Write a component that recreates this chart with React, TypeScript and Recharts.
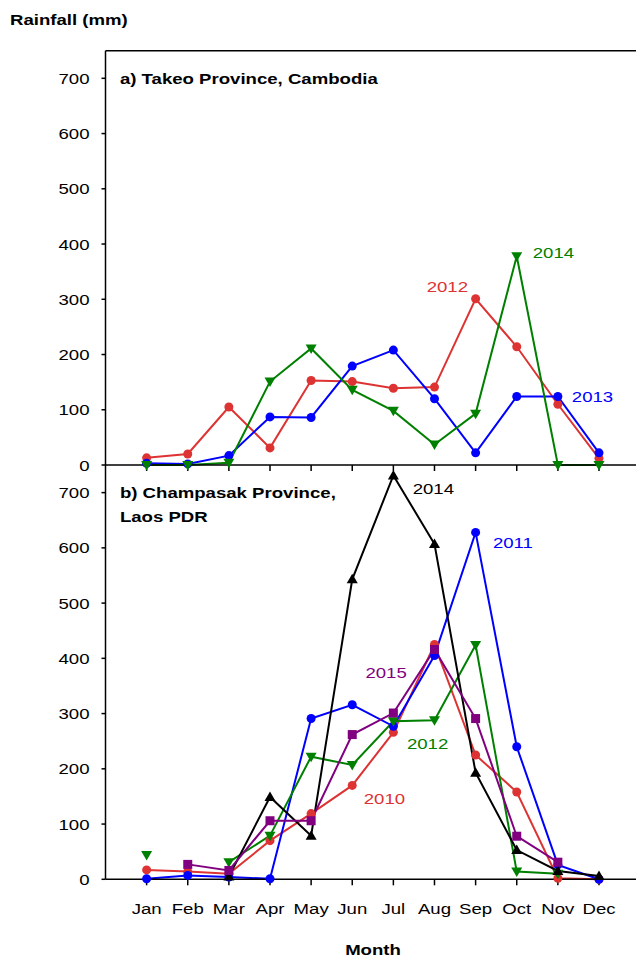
import React from 'react';
import { ComposedChart, Line, XAxis, YAxis, ReferenceLine, Scatter } from 'recharts';

const FONT = '"Liberation Sans", Arial, Helvetica, sans-serif';
const FS = 15.5;
const SX = 1.2;

const monthLabels = ['Jan', 'Feb', 'Mar', 'Apr', 'May', 'Jun', 'Jul', 'Aug', 'Sep', 'Oct', 'Nov', 'Dec'];
const monthNums = [1, 2, 3, 4, 5, 6, 7, 8, 9, 10, 11, 12];
const yTicks = [0, 100, 200, 300, 400, 500, 600, 700];

// a) Takeo Province, Cambodia
const takeo2012 = [13, 20, 105, 31, 153, 151, 139, 141, 301, 214, 110, 12];
const takeo2013 = [3, 2, 17, 87, 86, 179, 208, 120, 22, 124, 124, 22];
const takeo2014 = [0, 0, 4, 151, 211, 136, 98, 37, 93, 378, 0, 0];

// b) Champasak Province, Laos PDR
const champ2010 = [17, 14, 10, 70, 119, 170, 266, 425, 225, 158, 2, 0];
const champ2011 = [1, 7, 4, 1, 291, 316, 277, 405, 628, 240, 26, 0];
const champ2012 = [44, null, 31, 79, 222, 207, 286, 288, 424, 14, 10, null];
const champ2014 = [null, null, 5, 149, 79, 543, 731, 607, 193, 53, 15, 6];
const champ2015 = [null, 27, 16, 106, 106, 262, 301, 416, 291, 78, 31, null];

// year annotations (data coordinates of label start)
const takeoNotes = [
  { text: '2014', m: 10.39, v: 384, s: 'y2014' },
  { text: '2012', m: 7.81, v: 324, s: 'y2012' },
  { text: '2013', m: 11.34, v: 123.5, s: 'y2013' },
];
const champNotes = [
  { text: '2014', m: 7.47, v: 708, s: 'y2014' },
  { text: '2011', m: 9.42, v: 609, s: 'y2011' },
  { text: '2015', m: 6.32, v: 375, s: 'y2015' },
  { text: '2012', m: 7.33, v: 246, s: 'y2012' },
  { text: '2010', m: 6.28, v: 146.5, s: 'y2010' },
];
const takeoTitles = [{ text: 'a) Takeo Province, Cambodia', m: 0.35, v: 700 }];
const champTitles = [
  { text: 'b) Champasak Province,', m: 0.35, v: 700 },
  { text: 'Laos PDR', m: 0.35, v: 657 },
];

const takeoColors: Record<string, string> = {
  y2012: '#dd3333',
  y2013: '#0000ff',
  y2014: '#008000',
};
const champColors: Record<string, string> = {
  y2010: '#dd3333',
  y2011: '#0000ff',
  y2012: '#008000',
  y2014: '#000000',
  y2015: '#800080',
};

const takeoRows = monthNums.map((m, i) => ({
  m,
  y2012: takeo2012[i],
  y2013: takeo2013[i],
  y2014: takeo2014[i],
}));
const champRows = monthNums.map((m, i) => ({
  m,
  y2010: champ2010[i],
  y2011: champ2011[i],
  y2012: champ2012[i],
  y2014: champ2014[i],
  y2015: champ2015[i],
}));

function SText({ x, y, children, bold, fill = '#000', anchor = 'start', dy = '0.355em' }: any) {
  return (
    <g transform={`translate(${x},${y}) scale(${SX},1)`}>
      <text x={0} y={0} dy={dy} textAnchor={anchor} fontFamily={FONT} fontSize={FS}
        fontWeight={bold ? 'bold' : 'normal'} fill={fill}>{children}</text>
    </g>
  );
}

const makeDot = (shape: string, color: string) => (p: any) => {
  const { cx, cy, index } = p;
  if (cx == null || cy == null || Number.isNaN(cy) || p.value == null) return <g key={`d${index}`} />;
  if (shape === 'circle') return <circle key={`d${index}`} cx={cx} cy={cy} r={4.5} fill={color} stroke="none" />;
  if (shape === 'square') return <rect key={`d${index}`} x={cx - 4.5} y={cy - 4.5} width={9} height={9} fill={color} />;
  if (shape === 'up')
    return <polygon key={`d${index}`} points={`${cx},${cy - 5.5} ${cx - 5.5},${cy + 4} ${cx + 5.5},${cy + 4}`} fill={color} />;
  return <polygon key={`d${index}`} points={`${cx - 5.5},${cy - 4} ${cx + 5.5},${cy - 4} ${cx},${cy + 5.5}`} fill={color} />;
};

const YTick = (p: any) => (
  <SText x={p.x} y={p.y} anchor="end">{p.payload.value}</SText>
);
const XTick = (p: any) => (
  <SText x={p.x} y={p.y} anchor="middle" dy="0.71em">{monthLabels[p.payload.value - 1]}</SText>
);
const EmptyTick = () => <g />;

const noteShape = (colors: Record<string, string>) => (p: any) => (
  <SText x={p.cx} y={p.cy} fill={colors[p.payload.s]}>{p.payload.text}</SText>
);
const titleShape = (p: any) => (
  <SText x={p.cx} y={p.cy} bold>{p.payload.text}</SText>
);

const AX = { stroke: '#000', strokeWidth: 1.5 };
const YW = 105.5;
const PLOT_H = 414.3;

export default function App() {
  return (
    <div style={{ position: 'absolute', left: 0, top: 0, width: 636, height: 958, overflow: 'hidden', background: '#fff' }}>
      <div style={{ position: 'absolute', left: 0, top: 0 }}>
        <ComposedChart width={636} height={475} data={takeoRows} margin={{ top: 50.7, right: 0, left: 0, bottom: 0 }}>
          <XAxis dataKey="m" type="number" domain={[0, 12.9]} ticks={monthNums} allowDataOverflow
            axisLine={AX} tickLine={AX} tickSize={6} height={475 - 50.7 - PLOT_H} tick={EmptyTick} />
          <YAxis type="number" domain={[0, 750]} ticks={yTicks} width={YW} axisLine={AX} tickLine={AX}
            tickSize={4} tickMargin={12} tick={YTick} />
          <ReferenceLine y={750} stroke="#000" strokeWidth={1.5} />
          <Line dataKey="y2012" stroke="#dd3333" strokeWidth={2} dot={makeDot('circle', '#dd3333')} isAnimationActive={false} />
          <Line dataKey="y2013" stroke="#0000ff" strokeWidth={2} dot={makeDot('circle', '#0000ff')} isAnimationActive={false} />
          <Line dataKey="y2014" stroke="#008000" strokeWidth={2} dot={makeDot('down', '#008000')} isAnimationActive={false} />
          <Scatter data={takeoNotes} dataKey="v" shape={noteShape(takeoColors)} isAnimationActive={false} />
          <Scatter data={takeoTitles} dataKey="v" shape={titleShape} isAnimationActive={false} />
        </ComposedChart>
      </div>
      <div style={{ position: 'absolute', left: 0, top: 465 }}>
        <ComposedChart width={636} height={493} data={champRows} margin={{ top: 0, right: 0, left: 0, bottom: 0 }}>
          <XAxis dataKey="m" type="number" domain={[0, 12.9]} ticks={monthNums} allowDataOverflow
            axisLine={AX} tickLine={AX} tickSize={6} tickMargin={18} height={493 - PLOT_H} tick={XTick} />
          <YAxis type="number" domain={[0, 750]} ticks={yTicks} width={YW} axisLine={AX} tickLine={AX}
            tickSize={4} tickMargin={12} tick={YTick} />
          <Line dataKey="y2010" stroke="#dd3333" strokeWidth={2} dot={makeDot('circle', '#dd3333')} isAnimationActive={false} />
          <Line dataKey="y2011" stroke="#0000ff" strokeWidth={2} dot={makeDot('circle', '#0000ff')} isAnimationActive={false} />
          <Line dataKey="y2012" stroke="#008000" strokeWidth={2} dot={makeDot('down', '#008000')} isAnimationActive={false} />
          <Line dataKey="y2014" stroke="#000000" strokeWidth={2} dot={makeDot('up', '#000000')} isAnimationActive={false} />
          <Line dataKey="y2015" stroke="#800080" strokeWidth={2} dot={makeDot('square', '#800080')} isAnimationActive={false} />
          <Scatter data={champNotes} dataKey="v" shape={noteShape(champColors)} isAnimationActive={false} />
          <Scatter data={champTitles} dataKey="v" shape={titleShape} isAnimationActive={false} />
        </ComposedChart>
      </div>
      <svg width={636} height={958} style={{ position: 'absolute', left: 0, top: 0, pointerEvents: 'none' }}>
        <SText x={10} y={24.5} bold dy="0">Rainfall (mm)</SText>
        <SText x={373} y={955} bold dy="0" anchor="middle">Month</SText>
      </svg>
    </div>
  );
}
